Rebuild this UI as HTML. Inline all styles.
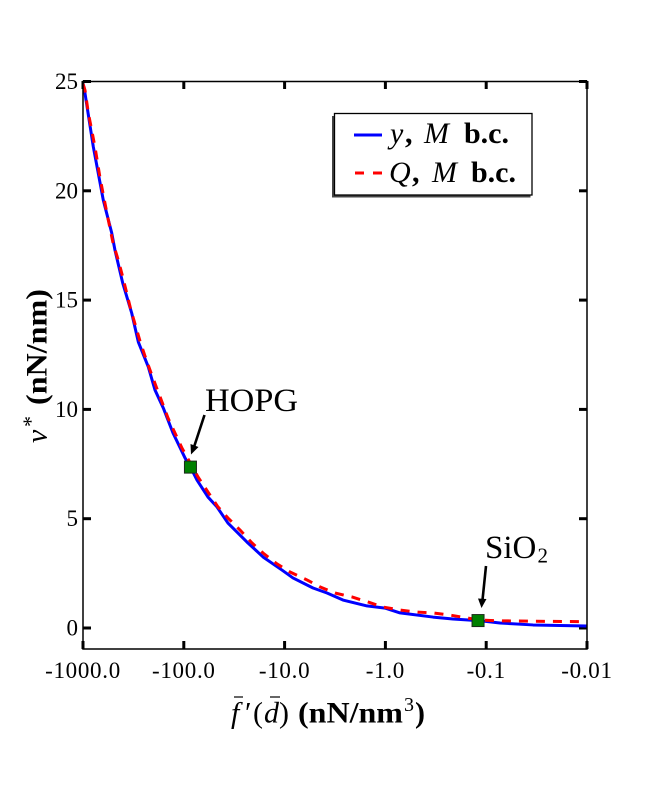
<!DOCTYPE html>
<html>
<head>
<meta charset="utf-8">
<title>Chart</title>
<style>
html,body{margin:0;padding:0;background:#fff;}
svg{display:block;}
text{font-family:"Liberation Serif",serif;fill:#000;}
</style>
</head>
<body>
<svg id="chart" width="652" height="812" viewBox="0 0 652 812" xmlns="http://www.w3.org/2000/svg">
  <rect x="0" y="0" width="652" height="812" fill="#fff"/>
  <g id="ticks"></g>
  <defs><clipPath id="plot-clip"><rect x="83" y="81" width="504" height="568"/></clipPath></defs>
  <g clip-path="url(#plot-clip)">
    <path id="blue-line" fill="none" stroke="#0000ff" stroke-width="3" stroke-linejoin="round"/>
    <path id="red-line" fill="none" stroke="#ff0000" stroke-width="3" stroke-dasharray="9 8"/>
  </g>
  <rect x="83" y="81.5" width="504" height="567.5" fill="none" stroke="#000" stroke-width="1.5"/>
  <g id="markers"></g>

  <g>
    <text x="205" y="411" font-size="33" textLength="93" lengthAdjust="spacingAndGlyphs">HOPG</text>
    <line x1="204.5" y1="415" x2="194" y2="447" stroke="#000" stroke-width="2.6"/>
    <polygon points="191,454.5 190.5,444 198.5,447" fill="#000"/>
  </g>
  <g>
    <text x="485" y="558" font-size="33">SiO</text>
    <text x="537.5" y="562.5" font-size="21">2</text>
    <line x1="486" y1="566" x2="482.5" y2="600" stroke="#000" stroke-width="2.6"/>
    <polygon points="481.5,608 478,598.5 486.5,599" fill="#000"/>
  </g>

  <g>
    <rect x="332" y="116" width="198.5" height="81.5" fill="#444"/>
    <rect x="334.5" y="113.5" width="197.5" height="81.5" fill="#fff" stroke="#000" stroke-width="1.3"/>
    <line x1="354" y1="135" x2="382" y2="135" stroke="#0000ff" stroke-width="3"/>
    <line x1="355" y1="173" x2="382" y2="173" stroke="#ff0000" stroke-width="3" stroke-dasharray="9 9"/>
    <text y="143" font-size="30"><tspan x="390" font-style="italic">y</tspan><tspan x="405" font-weight="bold">,</tspan><tspan x="424" font-style="italic">M</tspan><tspan x="464" font-weight="bold">b.c.</tspan></text>
    <text y="182" font-size="30"><tspan x="389" font-style="italic">Q</tspan><tspan x="412" font-weight="bold">,</tspan><tspan x="432" font-style="italic">M</tspan><tspan x="471" font-weight="bold">b.c.</tspan></text>
  </g>

  <g>
    <text y="722.5" font-size="30"><tspan x="231" font-style="italic">f</tspan><tspan x="245">′</tspan><tspan x="253">(</tspan><tspan x="264" font-style="italic">d</tspan><tspan x="279">)</tspan></text>
    <text x="298" y="722.5" font-size="30" font-weight="bold" textLength="105" lengthAdjust="spacingAndGlyphs">(nN/nm</text>
    <text x="404" y="711" font-size="20">3</text>
    <text x="415" y="722.5" font-size="30" font-weight="bold">)</text>
    <line x1="234" y1="697" x2="243" y2="697" stroke="#000" stroke-width="1.2"/>
    <line x1="270" y1="697" x2="280" y2="697" stroke="#000" stroke-width="1.2"/>
  </g>
  <g>
    <text transform="translate(46.5,443) rotate(-90)" font-size="30" font-style="italic">ν</text>
    <text transform="translate(38,427) rotate(-90)" font-size="22">*</text>
    <text transform="translate(46.5,405) rotate(-90)" font-size="30" font-weight="bold" textLength="116" lengthAdjust="spacingAndGlyphs">(nN/nm)</text>
  </g>

  <script>
    var xTickExponents = [3, 2, 1, 0, -1, -2];
    var xTickLabels = ['-1000.0', '-100.0', '-10.0', '-1.0', '-0.1', '-0.01'];
    var yTickValues = [0, 5, 10, 15, 20, 25];
    var yTickLabels = ['0', '5', '10', '15', '20', '25'];

    var blueLogF = [3, 2.99, 2.898, 2.799, 2.715, 2.683, 2.606, 2.517, 2.451, 2.352, 2.286, 2.203, 2.107, 1.988, 1.934, 1.869, 1.76, 1.671, 1.562, 1.373, 1.214, 1.026, 0.917, 0.718, 0.579, 0.421, 0.183, 0.004, -0.145, -0.472, -0.67, -0.919, -1.137, -1.464, -2];
    var blueNu = [24.89, 24.75, 22.02, 19.58, 18.07, 17.29, 15.78, 14.41, 13.08, 11.94, 10.89, 10.06, 8.92, 7.78, 7.36, 6.77, 5.99, 5.54, 4.8, 3.93, 3.25, 2.65, 2.29, 1.83, 1.6, 1.28, 1.01, 0.91, 0.69, 0.5, 0.41, 0.34, 0.23, 0.14, 0.09];

    var redLogF = [3, 2.98, 2.947, 2.881, 2.831, 2.765, 2.702, 2.65, 2.606, 2.566, 2.527, 2.481, 2.435, 2.382, 2.325, 2.269, 2.209, 2.157, 2.018, 1.859, 1.76, 1.661, 1.562, 1.442, 1.323, 1.214, 1.075, 0.946, 0.778, 0.649, 0.5, 0.331, 0.173, 0.024, -0.145, -0.313, -0.472, -0.641, -0.81, -0.919, -1.117, -1.464, -2];
    var redNu = [24.89, 24.6, 23.56, 22, 20.59, 19.03, 17.61, 16.83, 16.06, 15.32, 14.59, 13.86, 13.13, 12.4, 11.67, 10.98, 10.25, 9.61, 8.23, 6.91, 6.22, 5.54, 5.03, 4.48, 3.89, 3.43, 2.93, 2.56, 2.2, 1.88, 1.6, 1.42, 1.19, 0.96, 0.82, 0.73, 0.69, 0.59, 0.46, 0.37, 0.33, 0.31, 0.29];

    var markerLogF = [1.934, -0.919];
    var markerNu = [7.36, 0.34];

    var svgNS = 'http://www.w3.org/2000/svg';
    function xScale(logF) { return 83 + (3 - logF) * 100.8; }
    function yScale(nu) { return 628 - nu * 21.86; }
    function linePath(xs, ys) {
      var d = '';
      for (var i = 0; i < xs.length; i++) {
        d += (i ? 'L' : 'M') + xScale(xs[i]).toFixed(2) + ' ' + yScale(ys[i]).toFixed(2);
      }
      return d;
    }
    function addLine(parent, x1, y1, x2, y2) {
      var l = document.createElementNS(svgNS, 'line');
      l.setAttribute('x1', x1); l.setAttribute('y1', y1);
      l.setAttribute('x2', x2); l.setAttribute('y2', y2);
      l.setAttribute('stroke', '#000'); l.setAttribute('stroke-width', '3');
      parent.appendChild(l);
      return l;
    }
    function addText(parent, x, y, str, anchor) {
      var t = document.createElementNS(svgNS, 'text');
      t.setAttribute('x', x); t.setAttribute('y', y);
      t.setAttribute('font-size', '23');
      t.setAttribute('text-anchor', anchor);
      t.textContent = str;
      parent.appendChild(t);
      return t;
    }

    document.getElementById('blue-line').setAttribute('d', linePath(blueLogF, blueNu));
    document.getElementById('red-line').setAttribute('d', linePath(redLogF, redNu));

    var tickGroup = document.getElementById('ticks');
    xTickExponents.forEach(function (e, i) {
      var x = xScale(e);
      var b = addLine(tickGroup, x, 649, x, 641);
      
      
      var t = addLine(tickGroup, x, 81, x, 89);
      
      
      var lab = addText(tickGroup, x, 678, xTickLabels[i], 'middle');
      lab.setAttribute('letter-spacing', '0.7');
      
      
    });
    yTickValues.forEach(function (v, i) {
      var y = yScale(v);
      var l = addLine(tickGroup, 83, y, 91, y);
      
      
      var r = addLine(tickGroup, 587, y, 579, y);
      
      
      var lab = addText(tickGroup, 78, y + 7.5, yTickLabels[i], 'end');
      
      
    });

    var markerGroup = document.getElementById('markers');
    markerLogF.forEach(function (f, i) {
      var r = document.createElementNS(svgNS, 'rect');
      r.setAttribute('x', xScale(f) - 6);
      r.setAttribute('y', yScale(markerNu[i]) - 6);
      r.setAttribute('width', '12');
      r.setAttribute('height', '12');
      r.setAttribute('fill', '#008000');
      r.setAttribute('stroke', '#1a2a1a');
      r.setAttribute('stroke-width', '1');
      
      
      markerGroup.appendChild(r);
    });
  </script>
</svg>
</body>
</html>
